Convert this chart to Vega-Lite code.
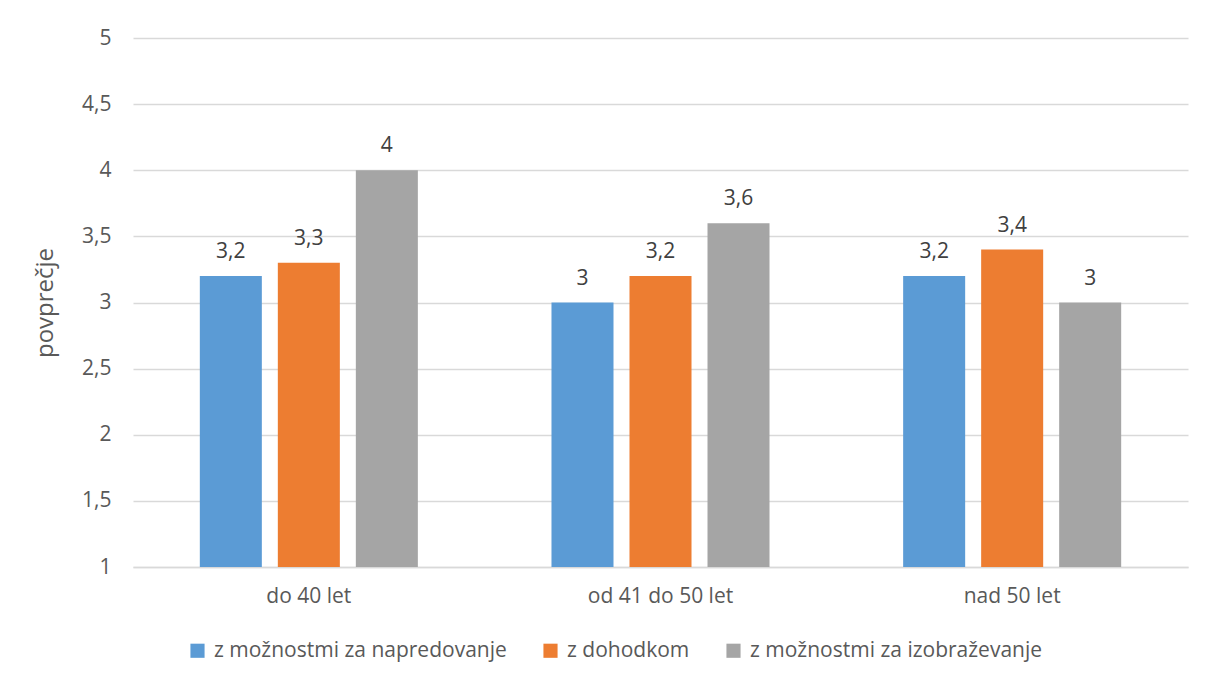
{
  "$schema": "https://vega.github.io/schema/vega-lite/v6.json",
  "autosize": "none",
  "width": 1055,
  "height": 529,
  "padding": {"left": 133, "top": 38, "right": 18, "bottom": 114},
  "background": "white",
  "config": {
    "font": "Open Sans",
    "view": {"stroke": null},
    "locale": {"number": {"decimal": ",", "thousands": ".", "grouping": [3], "currency": ["", " €"]}}
  },
  "data": {
    "values": [
      {"skupina": "do 40 let", "serija": "z možnostmi za napredovanje", "vrednost": 3.2},
      {"skupina": "do 40 let", "serija": "z dohodkom", "vrednost": 3.3},
      {"skupina": "do 40 let", "serija": "z možnostmi za izobraževanje", "vrednost": 4},
      {"skupina": "od 41 do 50 let", "serija": "z možnostmi za napredovanje", "vrednost": 3},
      {"skupina": "od 41 do 50 let", "serija": "z dohodkom", "vrednost": 3.2},
      {"skupina": "od 41 do 50 let", "serija": "z možnostmi za izobraževanje", "vrednost": 3.6},
      {"skupina": "nad 50 let", "serija": "z možnostmi za napredovanje", "vrednost": 3.2},
      {"skupina": "nad 50 let", "serija": "z dohodkom", "vrednost": 3.4},
      {"skupina": "nad 50 let", "serija": "z možnostmi za izobraževanje", "vrednost": 3}
    ]
  },
  "encoding": {
    "x": {
      "field": "skupina", "type": "nominal",
      "sort": ["do 40 let", "od 41 do 50 let", "nad 50 let"],
      "scale": {"paddingInner": 0.38, "paddingOuter": 0.19},
      "axis": {
        "title": null, "labelAngle": 0, "labelFont": "Open Sans", "labelFontSize": 21,
        "labelColor": "#595959", "labelPadding": 18, "ticks": false,
        "domain": true, "domainColor": "#D9D9D9", "domainWidth": 1.5
      }
    },
    "xOffset": {
      "field": "serija", "type": "nominal",
      "sort": ["z možnostmi za napredovanje", "z dohodkom", "z možnostmi za izobraževanje"],
      "scale": {"paddingInner": 0.205, "paddingOuter": 0}
    },
    "y": {
      "field": "vrednost", "type": "quantitative",
      "scale": {"domain": [1, 5], "zero": false, "nice": false},
      "axis": {
        "title": "povprečje", "titleFont": "Open Sans", "titleFontSize": 24, "titleFontWeight": "normal",
        "titleColor": "#595959", "titlePadding": 24,
        "values": [1, 1.5, 2, 2.5, 3, 3.5, 4, 4.5, 5], "format": ",.1~f",
        "labelFont": "Open Sans", "labelFontSize": 21, "labelColor": "#595959", "labelPadding": 22,
        "ticks": false, "domain": false, "grid": true, "gridColor": "#D9D9D9", "gridWidth": 1.5
      }
    }
  },
  "layer": [
    {
      "mark": {"type": "bar"},
      "encoding": {
        "y2": {"datum": 1},
        "color": {
          "field": "serija", "type": "nominal",
          "scale": {
            "domain": ["z možnostmi za napredovanje", "z dohodkom", "z možnostmi za izobraževanje"],
            "range": ["#5B9BD5", "#ED7D31", "#A5A5A5"]
          },
          "legend": {
            "title": null, "orient": "none", "direction": "horizontal",
            "legendX": 54, "legendY": 602,
            "symbolType": "square", "symbolSize": 200, "symbolStrokeWidth": 0,
            "labelFont": "Open Sans", "labelFontSize": 21, "labelColor": "#595959",
            "labelOffset": 6, "labelLimit": 0, "columnPadding": 33
          }
        }
      }
    },
    {
      "mark": {"type": "text", "baseline": "middle", "dy": -24, "fontSize": 21, "color": "#404040", "font": "Open Sans"},
      "encoding": {
        "text": {"field": "vrednost", "type": "quantitative", "format": ",.1~f"}
      }
    }
  ]
}
